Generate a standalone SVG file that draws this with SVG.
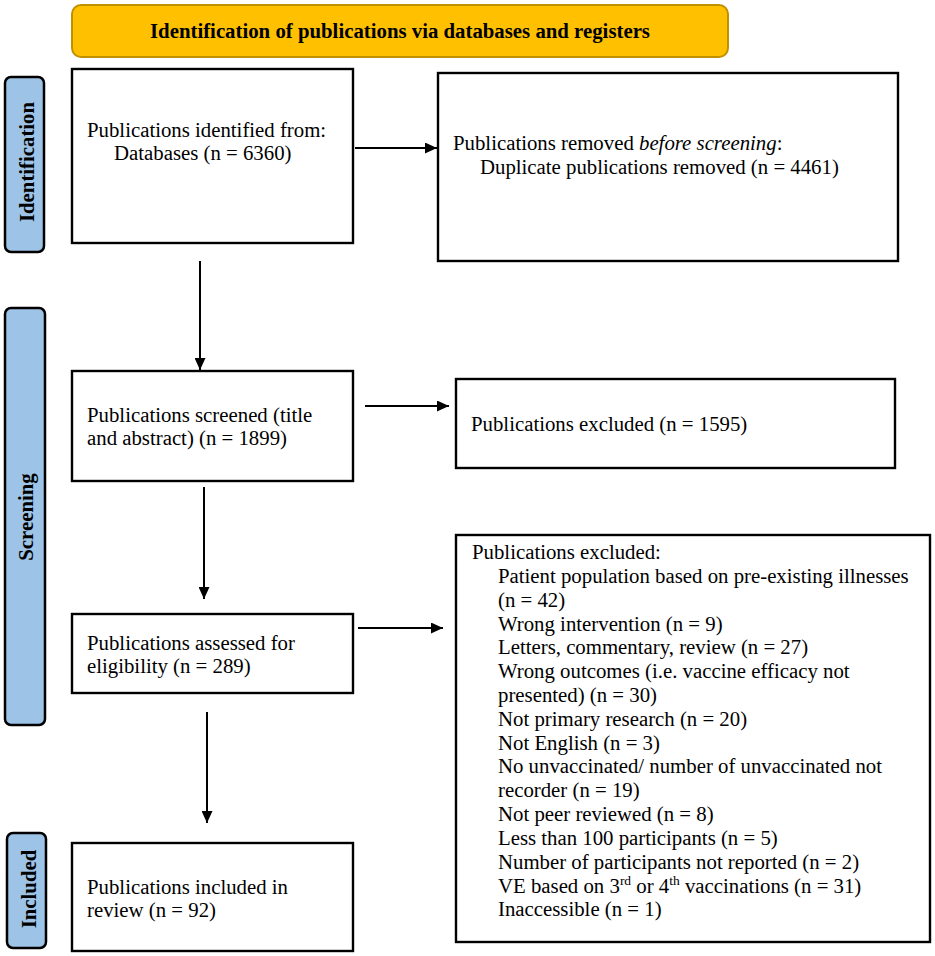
<svg xmlns="http://www.w3.org/2000/svg" width="935" height="956" viewBox="0 0 935 956">
<style>
text{font-family:"Liberation Serif","Times New Roman",serif;font-size:20.8px;fill:#000}
.b{font-weight:bold}
.box{fill:#fff;stroke:#000;stroke-width:2.4}
.side{fill:#9DC3E6;stroke:#000;stroke-width:2.5}
.con{stroke:#000;stroke-width:2;fill:none;marker-end:url(#ah)}
</style>
<defs>
<marker id="ah" markerUnits="userSpaceOnUse" markerWidth="13" markerHeight="11" refX="12" refY="5.5" orient="auto">
<path d="M0,0 L12,5.5 L0,11 z" fill="#000"/>
</marker>
</defs>
<rect width="935" height="956" fill="#fff"/>
<g id="header">
<rect x="72" y="5" width="656" height="52" rx="9" fill="#FFC000" stroke="#BF9000" stroke-width="2"/>
<text class="b" x="400" y="38" text-anchor="middle">Identification of publications via databases and registers</text>
</g>
<g id="stage-identification">
<rect class="side" x="5" y="77" width="39" height="175" rx="6"/>
<text class="b" transform="translate(34,162) rotate(-90)" text-anchor="middle">Identification</text>
</g>
<g id="stage-screening">
<rect class="side" x="5" y="308" width="40" height="417" rx="6"/>
<text class="b" transform="translate(33,517) rotate(-90)" text-anchor="middle">Screening</text>
</g>
<g id="stage-included">
<rect class="side" x="7" y="833" width="39" height="115" rx="6"/>
<text class="b" transform="translate(36,889) rotate(-90)" text-anchor="middle">Included</text>
</g>
<g id="identified">
<rect class="box" x="72" y="69" width="281" height="174"/>
<text x="87" y="137">Publications identified from:</text>
<text x="114" y="160">Databases (n = 6360)</text>
</g>
<g id="removed">
<rect class="box" x="438" y="73" width="460" height="188"/>
<text x="453" y="150">Publications removed <tspan font-style="italic">before screening</tspan>:</text>
<text x="480" y="174">Duplicate publications removed (n = 4461)</text>
</g>
<g id="screened">
<rect class="box" x="72" y="371" width="281" height="110"/>
<text x="87" y="422">Publications screened (title</text>
<text x="87" y="445">and abstract) (n = 1899)</text>
</g>
<g id="excluded1">
<rect class="box" x="456" y="379" width="439" height="89"/>
<text x="471" y="431">Publications excluded (n = 1595)</text>
</g>
<g id="assessed">
<rect class="box" x="72" y="614" width="281" height="79"/>
<text x="87" y="650">Publications assessed for</text>
<text x="87" y="673">eligibility (n = 289)</text>
</g>
<g id="excluded2">
<rect class="box" x="456" y="535" width="474" height="407"/>
<text x="472" y="559">Publications excluded:</text>
<text x="498" y="583">Patient population based on pre-existing illnesses</text>
<text x="498" y="607">(n = 42)</text>
<text x="498" y="631">Wrong intervention (n = 9)</text>
<text x="498" y="654">Letters, commentary, review (n = 27)</text>
<text x="498" y="678">Wrong outcomes (i.e. vaccine efficacy not</text>
<text x="498" y="702">presented) (n = 30)</text>
<text x="498" y="726">Not primary research (n = 20)</text>
<text x="498" y="750">Not English (n = 3)</text>
<text x="498" y="773">No unvaccinated/ number of unvaccinated not</text>
<text x="498" y="797">recorder (n = 19)</text>
<text x="498" y="821">Not peer reviewed (n = 8)</text>
<text x="498" y="845">Less than 100 participants (n = 5)</text>
<text x="498" y="869">Number of participants not reported (n = 2)</text>
<text x="498" y="893">VE based on 3<tspan font-size="13.5" dy="-8">rd</tspan><tspan dy="8"> or 4</tspan><tspan font-size="13.5" dy="-8">th</tspan><tspan dy="8"> vaccinations (n = 31)</tspan></text>
<text x="498" y="916">Inaccessible (n = 1)</text>
</g>
<g id="included">
<rect class="box" x="72" y="843" width="281" height="108"/>
<text x="87" y="894">Publications included in</text>
<text x="87" y="917">review (n = 92)</text>
</g>
<g id="connectors">
<line class="con" x1="355" y1="148" x2="437" y2="148"/>
<line class="con" x1="200" y1="261" x2="200" y2="370"/>
<line class="con" x1="365" y1="406" x2="449" y2="406"/>
<line class="con" x1="204" y1="487" x2="204" y2="599"/>
<line class="con" x1="358" y1="628" x2="443" y2="628"/>
<line class="con" x1="207" y1="712" x2="207" y2="823"/>
</g>
</svg>
